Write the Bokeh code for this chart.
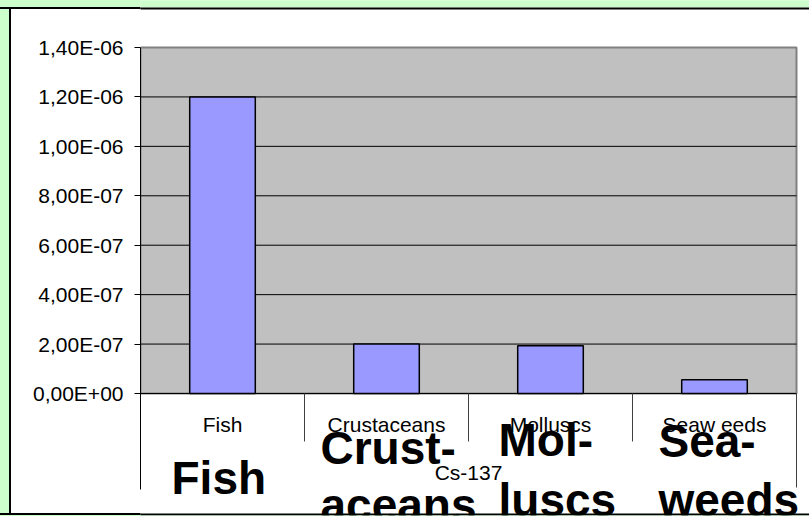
from bokeh.plotting import figure
from bokeh.models import FixedTicker, Range1d
from bokeh.core.properties import value
from bokeh.embed import file_html
from bokeh.resources import INLINE

# ---- data ----
categories = ["Fish", "Crustaceans", "Molluscs", "Seaw eeds"]
big_labels = ["Fish", "Crust-\naceans", "Mol-\nluscs", "Sea-\nweeds"]
cs137 = [1.2e-6, 2.0e-7, 1.93e-7, 5.6e-8]
y_ticks = [0.0, 2e-7, 4e-7, 6e-7, 8e-7, 1e-6, 1.2e-6, 1.4e-6]
y_tick_labels = ["0,00E+00", "2,00E-07", "4,00E-07", "6,00E-07",
                 "8,00E-07", "1,00E-06", "1,20E-06", "1,40E-06"]
axis_title = "Cs-137"

# ---- layout (pixel geometry) ----
W, H = 809, 516
PL, PR, PT, PB = 140, 796, 47, 393   # plot area edges on the page
n = len(categories)
YMAX = y_ticks[-1]
k = YMAX / (PB - PT)                 # data units per pixel, y
kx = n / (PR - PL)                   # data units per pixel, x
FONT = "Liberation Sans"
SMALL, BIG = 21, 46
MID = 0.3465                         # baseline -> middle offset (em)
GREEN = "#ccffcc"


def xd(px):
    return (px - PL) * kx


def yd(py):
    return (PB - py) * k


def ymid(baseline_py, size):
    return yd(baseline_py - MID * size)


p = figure(width=W, height=H,
           x_range=Range1d(xd(PL), xd(W)), y_range=Range1d(yd(H), yd(0)),
           min_border_left=PL, min_border_right=0, min_border_top=0,
           min_border_bottom=0, x_axis_location=None,
           background_fill_color="white", border_fill_color=None,
           outline_line_color=None, output_backend="svg",
           toolbar_location=None)
p.styles = {"background": (
    f"linear-gradient(to bottom, {GREEN} 0px 7px, #000000 7px 9px, "
    f"transparent 9px 513px, #000000 513px 515px, {GREEN} 515px), "
    f"linear-gradient(to right, {GREEN} 0px 9px, #000000 9px 11px, #ffffff 11px)")}
p.grid.visible = False

# outer strip and top border of the chart area
p.quad(left=[xd(0)], right=[xd(W + 10)], top=[yd(-5)], bottom=[yd(7)],
       fill_color=GREEN, line_color=None)
p.quad(left=[xd(0)], right=[xd(W + 10)], top=[yd(7)], bottom=[yd(9)],
       fill_color="black", line_color=None)

# plot area
p.quad(left=[0], right=[n], bottom=[0], top=[YMAX], fill_color="#c0c0c0",
       line_color="#808080", line_width=2)
grid_vals = y_ticks[1:-1]
p.segment(x0=[0] * len(grid_vals), x1=[n] * len(grid_vals), y0=grid_vals,
          y1=grid_vals, line_color="black", line_width=1)

xs = [i + 0.5 for i in range(n)]
p.vbar(x=xs, top=cs137, bottom=0, width=0.4, fill_color="#9999ff",
       line_color="black", line_width=1.5)

# category axis line and separators
p.segment(x0=[0], x1=[n], y0=[0], y1=[0], line_color="black", line_width=1)
sep_x = list(range(1, n)) + [n]
sep_end = [yd(441)] * (n - 1) + [yd(487)]
p.segment(x0=sep_x, x1=sep_x, y0=[0] * n, y1=sep_end, line_color="#404040",
          line_width=1)

# small category labels
p.text(x=xs, y=[ymid(431, SMALL)] * n, text=categories, text_font=value(FONT),
       text_font_size=f"{SMALL}px", text_align="center", text_baseline="middle",
       text_color="black")

# big bold labels
label_pos = [[(171, 493)], [(320, 463), (320, 520)], [(498, 455), (498, 515)],
             [(658, 456), (658, 515)]]
bx, by, bt = [], [], []
for txt, pos in zip(big_labels, label_pos):
    for line, (px, py) in zip(txt.split("\n"), pos):
        bx.append(xd(px))
        by.append(ymid(py, BIG))
        bt.append(line)
p.text(x=bx, y=by, text=bt, text_font=value(FONT), text_font_style="bold",
       text_font_size=f"{BIG}px", text_align="left", text_baseline="middle",
       text_color="black")

# axis title
p.text(x=[n / 2], y=[ymid(479, SMALL)], text=[axis_title], text_font=value(FONT),
       text_font_size=f"{SMALL}px", text_align="center", text_baseline="middle",
       text_color="black")

# bottom border drawn over the clipped labels
p.quad(left=[xd(0)], right=[xd(W + 10)], top=[yd(513)], bottom=[yd(515)],
       fill_color="black", line_color=None)
p.quad(left=[xd(0)], right=[xd(W + 10)], top=[yd(515)], bottom=[yd(H + 5)],
       fill_color=GREEN, line_color=None)

# value axis
p.yaxis.ticker = FixedTicker(ticks=y_ticks, minor_ticks=[])
p.yaxis.major_label_overrides = {t: s for t, s in zip(y_ticks, y_tick_labels)}
p.yaxis.bounds = (yd(489), YMAX)
p.yaxis.major_tick_out = 6
p.yaxis.major_tick_in = 0
p.yaxis.minor_tick_line_color = None
p.yaxis.axis_line_color = "black"
p.yaxis.major_tick_line_color = "black"
p.yaxis.major_label_text_font = FONT
p.yaxis.major_label_text_font_size = f"{SMALL}px"
p.yaxis.major_label_text_color = "black"
p.yaxis.major_label_standoff = 11

open("out.html", "w").write(file_html(p, INLINE))
